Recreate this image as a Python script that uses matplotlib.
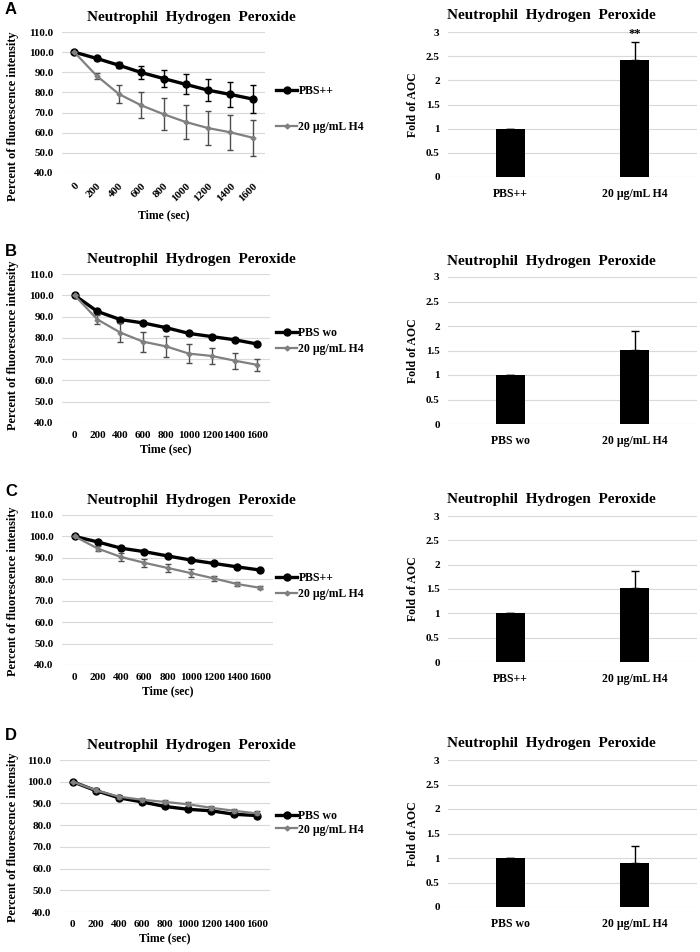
import numpy as np
import matplotlib
matplotlib.use("Agg")
import matplotlib.pyplot as plt
from matplotlib.lines import Line2D

plt.rcParams['font.family'] = ['Liberation Serif', 'DejaVu Serif']
plt.rcParams['font.weight'] = 'bold'
plt.rcParams['axes.titleweight'] = 'bold'
plt.rcParams['axes.labelweight'] = 'bold'

# ---------------- data ----------------
time_sec = [0, 200, 400, 600, 800, 1000, 1200, 1400, 1600]
h4_label = "20 \u00b5g/mL H4"

# panel A
a_ctrl = [100, 96.9, 93.5, 89.9, 86.9, 84.0, 81.1, 79.0, 76.7]
a_ctrl_err = [0, 0.8, 1.5, 3.0, 4.3, 5.0, 5.6, 6.0, 6.8]
a_h4 = [100, 88.3, 79.2, 73.6, 69.2, 65.3, 62.3, 60.2, 57.5]
a_h4_err = [0, 1.5, 4.3, 6.5, 7.8, 8.3, 8.4, 8.8, 9.0]

# panel B
b_ctrl = [100, 92.4, 88.6, 87.0, 84.8, 82.1, 80.6, 79.1, 77.1]
b_ctrl_err = [0, 0.8, 0.8, 0.7, 0.7, 0.8, 0.7, 0.6, 0.6]
b_h4 = [100, 88.6, 82.5, 78.2, 76.0, 72.6, 71.5, 69.3, 67.3]
b_h4_err = [0, 2.3, 4.3, 4.7, 4.8, 4.6, 3.9, 3.8, 2.9]

# panel C
c_ctrl = [100, 97.4, 94.5, 92.9, 90.9, 89.0, 87.4, 85.8, 84.3]
c_ctrl_err = [0, 0.7, 0.8, 0.7, 0.6, 0.6, 0.6, 0.6, 0.6]
c_h4 = [100, 94.3, 90.4, 87.7, 85.3, 82.9, 80.4, 77.8, 76.0]
c_h4_err = [0, 1.3, 2.0, 2.0, 1.8, 1.8, 1.3, 1.0, 0.7]

# panel D
d_ctrl = [100, 95.9, 92.6, 90.7, 88.6, 87.3, 86.6, 85.0, 84.4]
d_ctrl_err = [0, 0.7, 0.8, 0.8, 0.8, 0.8, 0.8, 0.8, 0.8]
d_h4 = [100, 96.1, 93.1, 91.7, 90.7, 89.6, 88.0, 86.6, 85.4]
d_h4_err = [0, 0.8, 1.0, 1.0, 1.0, 1.0, 1.0, 1.0, 0.9]

# fold of AOC bars
a_fold = [1.0, 2.42]
a_fold_err = [0, 0.37]
b_fold = [1.0, 1.52]
b_fold_err = [0, 0.37]
c_fold = [1.0, 1.52]
c_fold_err = [0, 0.36]
d_fold = [1.0, 0.89]
d_fold_err = [0, 0.36]

ctrl_names = ["PBS++", "PBS wo", "PBS++", "PBS wo"]
panel_letters = ["A", "B", "C", "D"]
title = "Neutrophil  Hydrogen  Peroxide"

W, H = 700, 952
fig = plt.figure(figsize=(W / 100, H / 100), dpi=100)


def box(x0, x1, ytop, ybot):
    return [x0 / W, 1 - ybot / H, (x1 - x0) / W, (ybot - ytop) / H]


def line_panel(rect, ctrl, ctrl_err, h4, h4_err, ctrl_name, rot, leg_y, leg_sp, ylab_y):
    ax = fig.add_axes(rect)
    ax.errorbar(time_sec, ctrl, yerr=ctrl_err, color='black', lw=2.4, marker='o',
                ms=5, capsize=2.5, elinewidth=1.0, ecolor='black', zorder=3)
    ax.errorbar(time_sec, h4, yerr=h4_err, color='#808080', lw=1.6, marker='D',
                ms=2.5, capsize=2.5, elinewidth=1.0, ecolor='#4d4d4d', zorder=4)
    ax.set_ylim(40, 110)
    ax.set_yticks(np.arange(40, 111, 10))
    ax.set_yticklabels([f"{v:.1f}" for v in np.arange(40, 111, 10)], fontsize=8)
    ax.set_xlim(-110, 1710)
    ax.set_xticks(time_sec)
    if rot:
        ax.set_xticklabels([str(t) for t in time_sec], fontsize=8, rotation=45,
                           ha='right', rotation_mode='anchor')
    else:
        ax.set_xticklabels([str(t) for t in time_sec], fontsize=8)
    ax.tick_params(length=0, pad=6)
    ax.grid(axis='y', color='#d9d9d9', lw=0.8)
    ax.set_axisbelow(True)
    for s in ax.spines.values():
        s.set_visible(False)
    ax.set_xlabel("Time (sec)", fontsize=8.5, labelpad=4 if rot else 2)
    ax.set_ylabel("Percent of fluorescence intensity", fontsize=8.8)
    ax.yaxis.set_label_coords((19 - rect[0] * W) / (rect[2] * W), ylab_y)
    # chart title is centred over plot + legend area
    tx = (191 - rect[0] * W) / (rect[2] * W)
    ax.set_title(title, fontsize=11, pad=8, x=tx)
    handles = [Line2D([], [], color='black', lw=2.4, marker='o', ms=5),
               Line2D([], [], color='#808080', lw=1.6, marker='D', ms=2.5)]
    fig.legend(handles, [ctrl_name, h4_label], loc='center left',
               bbox_to_anchor=(276 / W, 1 - leg_y / H),
               frameon=False, fontsize=8.5, handlelength=1.8, handletextpad=0.1,
               labelspacing=leg_sp, borderpad=0, borderaxespad=0)
    return ax


def bar_panel(rect, fold, fold_err, ctrl_name, stars=None):
    ax = fig.add_axes(rect)
    xs = np.arange(2)
    ax.bar(xs, fold, width=0.23, color='black', zorder=3)
    ax.errorbar(xs, fold, yerr=[[0, 0], fold_err], fmt='none', ecolor='black',
                elinewidth=1.0, capsize=3, zorder=4)
    if stars:
        ax.text(1, fold[1] + fold_err[1] + 0.05, stars, ha='center', va='bottom', fontsize=9)
    ax.set_xlim(-0.5, 1.5)
    ax.set_ylim(0, 3)
    ax.set_yticks([0, 0.5, 1, 1.5, 2, 2.5, 3])
    ax.set_yticklabels(["0", "0.5", "1", "1.5", "2", "2.5", "3"], fontsize=8)
    ax.set_xticks(xs)
    ax.set_xticklabels([ctrl_name, h4_label], fontsize=8.5)
    ax.tick_params(length=0, pad=8)
    ax.tick_params(axis='y', pad=6)
    ax.grid(axis='y', color='#d9d9d9', lw=0.8)
    ax.set_axisbelow(True)
    for s in ax.spines.values():
        s.set_visible(False)
    ax.set_ylabel("Fold of AOC", fontsize=8.5, labelpad=5)
    tx = (551 - rect[0] * W) / (rect[2] * W)
    ax.set_title(title, fontsize=11, pad=9, x=tx)
    return ax


line_rects = [box(62, 265, 32, 173), box(62, 270, 274, 423),
              box(62, 273, 515, 665), box(60, 270, 760, 912)]
bar_rects = [box(448, 697, 32, 177), box(448, 697, 277, 424),
             box(448, 697, 516, 662), box(448, 697, 760, 907)]
line_data = [(a_ctrl, a_ctrl_err, a_h4, a_h4_err), (b_ctrl, b_ctrl_err, b_h4, b_h4_err),
             (c_ctrl, c_ctrl_err, c_h4, c_h4_err), (d_ctrl, d_ctrl_err, d_h4, d_h4_err)]
bar_data = [(a_fold, a_fold_err), (b_fold, b_fold_err), (c_fold, c_fold_err), (d_fold, d_fold_err)]
legend_y = [109, 341, 586, 823]
legend_sp = [2.0, 0.35, 0.4, 0.1]
ylabel_y = [0.40, 0.52, 0.49, 0.49]
letter_y = [10, 251, 491, 736]

for i in range(4):
    c, ce, h, he = line_data[i]
    line_panel(line_rects[i], c, ce, h, he, ctrl_names[i], i == 0,
               legend_y[i], legend_sp[i], ylabel_y[i])
    f, fe = bar_data[i]
    bar_panel(bar_rects[i], f, fe, ctrl_names[i], "**" if i == 0 else None)
    fig.text(5 / W, 1 - letter_y[i] / H, panel_letters[i], fontsize=12, fontweight='bold',
             family='Liberation Sans', ha='left', va='center')

fig.savefig("out.png", dpi=100)
